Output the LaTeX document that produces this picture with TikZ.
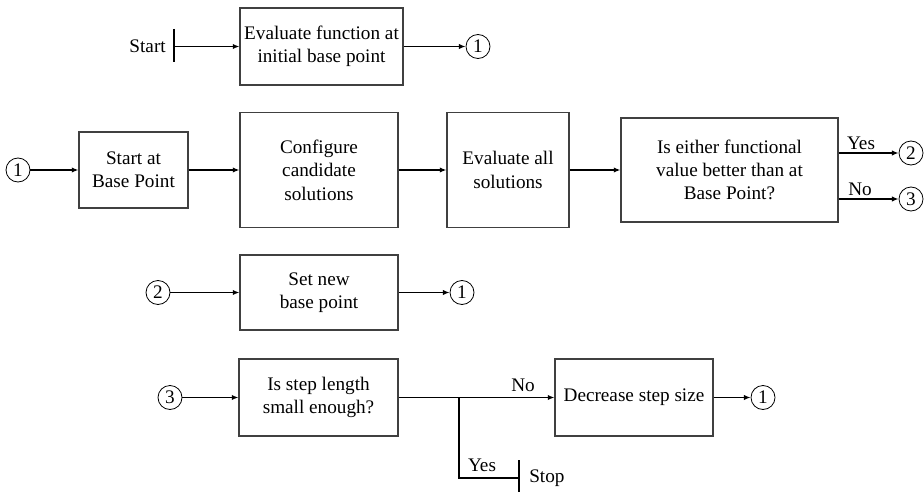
\documentclass[tikz,border=0pt]{standalone}
\usepackage{fontspec}
\setmainfont{Liberation Serif}
\usetikzlibrary{arrows.meta}
\begin{document}
\begin{tikzpicture}[x=0.75pt,y=-0.75pt,
  every node/.style={font=\fontsize{14.4}{17.5}\selectfont},
  box/.style={draw=black!75,line width=0.8pt,align=center,inner sep=0pt},
  conn/.style={draw,circle,line width=0.6pt,inner sep=0pt,minimum size=18pt,font=\fontsize{14.4}{14.4}\selectfont},
  lbl/.style={inner sep=0pt},
  arr/.style={line width=1.1pt,-{Latex[length=5pt,width=4pt]}},
  ln/.style={line width=1.1pt}]
\useasboundingbox (0,0) rectangle (924,492);
% Row 1
\coordinate (t1) at (174,46.5);
\draw[ln] (174,29) -- (174,62);
\node[lbl,anchor=east] (start) at (166,46) {Start};
\node[box,minimum width=163*0.75pt,minimum height=77*0.75pt] (b1) at (321.5,46.5) {Evaluate function at\\initial base point};
\node[conn] (c1) at (478,46.5) {1};
\draw[arr] (t1) -- (b1);
\draw[arr] (b1) -- (c1);
% Row 2
\node[conn] (c2) at (18,170) {1};
\node[box,minimum width=109*0.75pt,minimum height=76*0.75pt] (b2) at (133.5,170) {Start at\\Base Point};
\node[box,minimum width=158*0.75pt,minimum height=115*0.75pt] (b3) at (319,170) {Configure\\candidate\\solutions};
\node[box,minimum width=122*0.75pt,minimum height=115*0.75pt] (b4) at (508,170) {Evaluate all\\solutions};
\node[box,minimum width=217*0.75pt,minimum height=104*0.75pt] (b5) at (729.5,170) {Is either functional\\value better than at\\Base Point?};
\node[conn] (c3) at (911,153) {2};
\node[conn] (c4) at (911,199) {3};
\draw[arr] (c2) -- (b2);
\draw[arr] (b2) -- (b3);
\draw[arr] (b3) -- (b4);
\draw[arr] (b4) -- (b5);
\draw[arr] (b5.east |- c3) -- (c3);
\draw[arr] (b5.east |- c4) -- (c4);
\node[lbl] (yes1) at (861,143) {Yes};
\node[lbl] (no1) at (860,189) {No};
% Row 3
\node[conn] (c5) at (158,292.5) {2};
\node[box,minimum width=158*0.75pt,minimum height=75*0.75pt] (b6) at (319,292.5) {Set new\\base point};
\node[conn] (c6) at (462,292.5) {1};
\draw[arr] (c5) -- (b6);
\draw[arr] (b6) -- (c6);
% Row 4
\node[conn] (c7) at (170,397.5) {3};
\node[box,minimum width=159*0.75pt,minimum height=77*0.75pt] (b7) at (318.5,397.5) {Is step length\\small enough?};
\node[box,minimum width=158*0.75pt,minimum height=77*0.75pt] (b8) at (634,397.5) {Decrease step size};
\node[conn] (c8) at (763,397.5) {1};
\coordinate (br) at (459,397.5);
\coordinate (stop) at (519,478);
\draw[arr] (c7) -- (b7);
\draw[ln] (b7) -- (br);
\draw[arr] (br) -- (b8);
\draw[arr] (b8) -- (c8);
\draw[ln] (br) |- (stop);
\draw[ln] (519,460) -- (519,492);
\node[lbl] (no2) at (523,385) {No};
\node[lbl] (yes2) at (482,465) {Yes};
\node[lbl,anchor=west] (stoplbl) at (529,478) {Stop};
\end{tikzpicture}
\end{document}
